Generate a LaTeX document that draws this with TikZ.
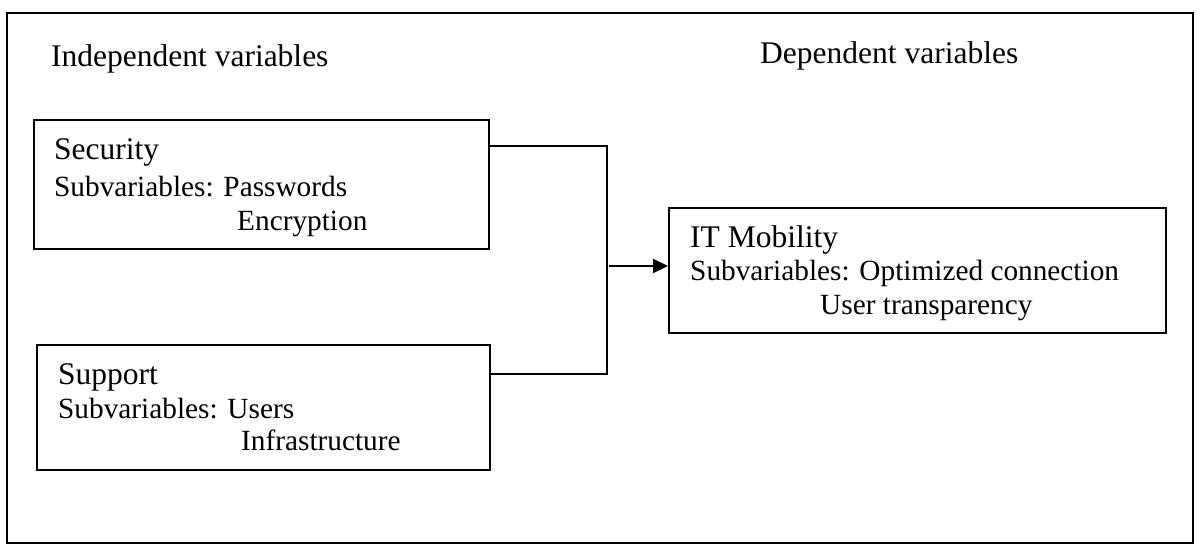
\documentclass[tikz,border=0pt]{standalone}
\usepackage{fontspec}
\setmainfont{Liberation Serif}
\usetikzlibrary{arrows.meta}
\tikzset{
  frame/.style={draw, line width=2pt},
  varbox/.style={draw, line width=2pt, rectangle, inner sep=0pt, anchor=north west},
  head/.style={anchor=base west, inner sep=0pt, font=\fontsize{31.5}{36}\selectfont},
  title/.style={anchor=base west, inner sep=0pt, font=\fontsize{31.5}{36}\selectfont},
  sub/.style={anchor=base west, inner sep=0pt, font=\fontsize{29.3}{34}\selectfont},
  conn/.style={draw, line width=2pt},
  arr/.style={draw, line width=2pt, -{Triangle[length=15pt,width=14pt]}}
}
\begin{document}
\begin{tikzpicture}[x=1pt,y=-1pt]
\useasboundingbox (0,0) rectangle (1201,550);
\draw[frame] (7,13) rectangle (1193,543);

\node[head] (indep) at (51,66) {Independent variables};
\node[head] (dep) at (760,63) {Dependent variables};

% Security box
\node[varbox, minimum width=455pt, minimum height=129pt] (sec) at (33,119) {};
\node[title] (sect) at (54,159) {Security};
\node[sub] (secs) at (54,196) {Subvariables: Passwords};
\node[sub] (sece) at (237,230) {Encryption};

% Support box
\node[varbox, minimum width=453pt, minimum height=125pt] (sup) at (36,344) {};
\node[title] (supt) at (58,384) {Support};
\node[sub] (sups) at (58,418) {Subvariables: Users};
\node[sub] (supi) at (241,450) {Infrastructure};

% IT Mobility box
\node[varbox, minimum width=497pt, minimum height=125pt] (it) at (668,207) {};
\node[title] (itt) at (690,247) {IT Mobility};
\node[sub] (its) at (690,280) {Subvariables: Optimized connection};
\node[sub] (itu) at (820,314) {User transparency};

% connectors
\coordinate (j1) at (607,146);
\coordinate (j2) at (607,374);
\coordinate (jm) at (609,266);
\draw[conn] (sec.east |- j1) -- (j1) -- (j2) -- (sup.east |- j2);
\draw[arr] (jm) -- (it.west |- jm);
\end{tikzpicture}
\end{document}
